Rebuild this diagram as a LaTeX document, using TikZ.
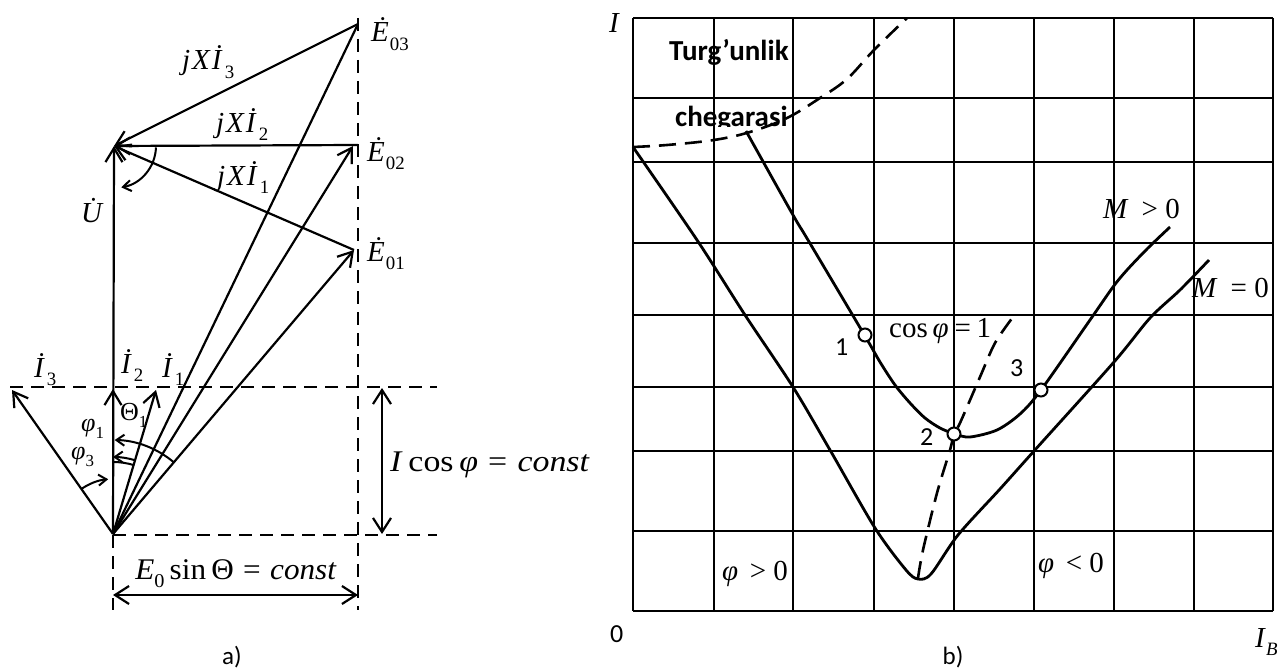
\documentclass[tikz,border=0pt]{standalone}
\usepackage{fontspec}
\usepackage{graphicx}
\setmainfont{Liberation Serif}
\newfontfamily\carl{Carlito}
\usetikzlibrary{arrows.meta}
\newcommand\sbs[1]{\raisebox{-0.28em}{\scalebox{0.65}{#1}}}
\newcommand\rel[1]{\hspace{0.3em}#1\hspace{0.3em}}
\begin{document}
\begin{tikzpicture}[x=1pt,y=-1pt,
  vec/.style={line width=2.2pt,-{Straight Barb[length=14pt,width=17pt,line width=2.2pt]}},
  dvec/.style={line width=2.2pt,{Straight Barb[length=14pt,width=18pt,line width=2.2pt]}-{Straight Barb[length=14pt,width=18pt,line width=2.2pt]}},
  sarc/.style={line width=2pt,-{Straight Barb[length=8pt,width=11pt,line width=2pt]}},
  dsh/.style={line width=1.8pt,dash pattern=on 13pt off 8pt},
  gridln/.style={line width=2.4pt},
  crv/.style={line width=2.8pt},
  dcrv/.style={line width=2.6pt,dash pattern=on 17pt off 9pt},
  pt/.style={circle,draw,fill=white,minimum size=13pt,inner sep=0pt,line width=2pt},
  lbl/.style={inner sep=0pt,anchor=base west,font=\fontsize{29}{33}\selectfont},
  elbl/.style={inner sep=0pt,anchor=base west,font=\fontsize{30}{34}\selectfont},
  slbl/.style={inner sep=0pt,anchor=base west,font=\fontsize{26}{30}\selectfont},
  rlbl/.style={inner sep=0pt,anchor=base west,font=\fontsize{29}{33}\selectfont},
  clbl/.style={inner sep=0pt,anchor=base west,font=\carl\fontsize{26}{30}\selectfont},
  bclbl/.style={inner sep=0pt,anchor=base west,font=\carl\bfseries\fontsize{29}{33}\selectfont}]
\useasboundingbox (0,0) rectangle (1283,669);
% ---------------- left: phasor diagram ----------------
\coordinate (O) at (113,534);
\coordinate (U) at (114,146);
\coordinate (E3) at (358,24);
\coordinate (E2) at (358,145);
\coordinate (E2t) at (353,146);
\coordinate (E1) at (354,250);
\coordinate (I3) at (12,390);
\coordinate (I2) at (113,389);
\coordinate (I1) at (156,390);
% dashed construction lines
\coordinate (Vt) at (358,18);  \coordinate (Vb) at (358,610);
\coordinate (H1a) at (10,387); \coordinate (H1b) at (437,387);
\coordinate (H2a) at (113,535); \coordinate (H2b) at (437,535);
\coordinate (V2b) at (113,610);
\draw[dsh] (Vt) -- (Vb);
\draw[dsh] (H1a) -- (H1b);
\draw[dsh] (H2a) -- (H2b);
\draw[dsh] (H2a) -- (V2b);
% vectors
\draw[vec] (O) -- (U);
\draw[line width=2.2pt] (O) -- (E3);
\draw[vec] (O) -- (E2t);
\draw[vec] (O) -- (E1);
\draw[vec] (E3) -- (U);
\draw[vec] (E2) -- (U);
\draw[vec] (E1) -- (U);
\draw[vec] (O) -- (I3);
\draw[vec] (O) -- (I2);
\draw[vec] (O) -- (I1);
% angle arcs
\draw[sarc] (U) ++(2:42) arc[start angle=2,end angle=80,radius=42];
\draw[sarc] (O) ++(-49.6:94) arc[start angle=-49.6,end angle=-89,radius=94];
\draw[line width=2pt] (O) ++(-73:72) arc[start angle=-73,end angle=-90,radius=72];
\draw[sarc] (O) ++(-73:77) arc[start angle=-73,end angle=-90,radius=77];
\draw[sarc] (O) ++(-125.6:55) arc[start angle=-125.6,end angle=-95,radius=55];
% dimension arrows
\coordinate (A1) at (113,595); \coordinate (A2) at (358,595);
\coordinate (B1) at (382,388); \coordinate (B2) at (382,534);
\draw[dvec] (A1) -- (A2);
\draw[dvec] (B1) -- (B2);
% labels
\node[lbl] (lE3) at (371,42) {\textit{\.E}\kern1pt\sbs{03}};
\node[lbl] (lE2) at (367,161) {\textit{\.E}\kern1pt\sbs{02}};
\node[lbl] (lE1) at (367,261) {\textit{\.E}\kern1pt\sbs{01}};
\node[lbl] (lX3) at (182,70) {\textit{j\kern2pt X\kern2pt\.I}\kern2pt\sbs{3}};
\node[lbl] (lX2) at (216,132) {\textit{j\kern2pt X\kern2pt\.I}\kern2pt\sbs{2}};
\node[lbl] (lX1) at (217,185) {\textit{j\kern2pt X\kern2pt\.I}\kern2pt\sbs{1}};
\node[lbl] (lU) at (81,222) {\textit{\.U}};
\node[lbl] (lI3) at (34,377) {\textit{\.I}\kern2pt\sbs{3}};
\node[lbl] (lI2) at (121,373) {\textit{\.I}\kern2pt\sbs{2}};
\node[lbl] (lI1) at (162,377) {\textit{\.I}\kern2pt\sbs{1}};
\node[slbl] (lp1) at (81,431) {\textit{φ}\sbs{1}};
\node[slbl] (lT1) at (120,420) {Θ\sbs{1}};
\node[slbl] (lp3) at (71,459) {\textit{φ}\sbs{3}};
\node[elbl,anchor=base] (lEs) at (236,579) {\scalebox{1.04}[1]{\textit{E}\sbs{0}\,sin\,Θ\rel{=}\textit{const}}};
\node[elbl] (lIc) at (390,471) {\scalebox{1.13}[1]{\textit{I}\,cos\,\textit{φ}\rel{=}\textit{const}}};
\node[clbl,anchor=base,font=\carl\fontsize{25}{28}\selectfont] (la) at (232,664) {a)};
% ---------------- right: V-curves ----------------
\foreach \x in {633,714,793,874,954,1034,1114,1194,1273}
  \draw[gridln] (\x,18) -- (\x,611);
\foreach \y in {18,98,162,243,315,387,451,531,611}
  \draw[gridln] (633,\y) -- (1273,\y);
% stability boundary
\draw[dcrv] plot[smooth,tension=0.6] coordinates {(633,147) (667,145) (714,140) (750,132) (787,118) (820,98) (847,79) (874,50) (907,18)};
% M = 0
\draw[crv] plot[smooth,tension=0.5] coordinates {(633,147) (697,240) (745,315) (793,387) (830,450) (875,528) (906,570) (918,579) (931,574) (958,535) (1000,489) (1034,451) (1114,362) (1150,318) (1180,290) (1209,260)};
% M > 0
\draw[crv] plot[smooth,tension=0.5] coordinates {(746,131) (793,215) (808,240) (865,336) (880,362) (895,385) (910,403) (925,418) (940,428) (955,434) (970,437) (997,430) (1020,414) (1041,390) (1090,320) (1113,287) (1127,270) (1148,248) (1170,227)};
% cos phi = 1
\draw[dcrv] plot[smooth,tension=0.5] coordinates {(918,578) (923,550) (937,493) (950,450) (954,434) (960,423) (980,377) (995,343) (1013,317)};
% operating points
\node[pt] (c1) at (865,335) {};
\node[pt] (c2) at (954,434) {};
\node[pt] (c3) at (1041,390) {};
% labels
\node[rlbl] (lI) at (609,33) {\textit{I}};
\node[bclbl] (lT) at (669,61) {Turg’unlik};
\begin{scope}
\clip (650,100) rectangle (820,126);
\node[bclbl] (lch) at (675,126) {chegarasi};
\end{scope}
\node[rlbl] (lMp) at (1103,218) {\textit{M}\hspace{0.45em}>\hspace{0.25em}0};
\node[rlbl] (lMz) at (1192,297) {\textit{M}\hspace{0.45em}=\hspace{0.25em}0};
\node[rlbl] (lcos) at (889,337) {cos\,\textit{φ}\hspace{0.2em}=\hspace{0.2em}1};
\node[clbl] (n1) at (835,355) {1};
\node[clbl] (n2) at (920,445) {2};
\node[clbl] (n3) at (1010,376) {3};
\node[rlbl] (lpp) at (722,580) {\textit{φ}\hspace{0.4em}>\hspace{0.25em}0};
\node[rlbl] (lpn) at (1038,572) {\textit{φ}\hspace{0.4em}<\hspace{0.25em}0};
\node[clbl] (l0) at (610,642) {0};
\node[rlbl] (lIB) at (1255,647) {\textit{I}\sbs{\textit{B}}};
\node[clbl,anchor=base,font=\carl\fontsize{25}{28}\selectfont] (lb) at (953,664) {b)};
\end{tikzpicture}
\end{document}
